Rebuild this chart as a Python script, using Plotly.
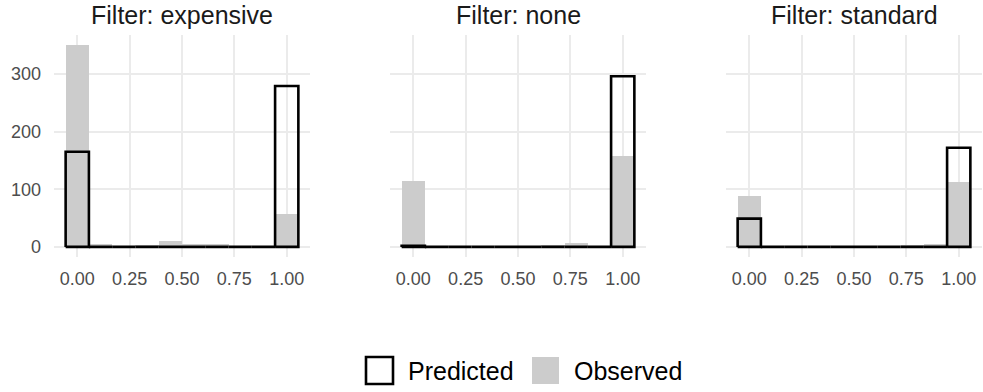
import plotly.graph_objects as go

# Histogram bins: 10 bins of width 1/9 centred on 0, 1/9, ..., 1
bin_width = 1 / 9
bin_centers = [i * bin_width for i in range(10)]

filters = ["expensive", "none", "standard"]

observed_expensive = [350, 5, 0, 3, 10, 5, 5, 0, 0, 57]
observed_none = [115, 0, 0, 0, 0, 0, 3, 6, 0, 158]
observed_standard = [88, 0, 0, 0, 0, 0, 0, 3, 5, 112]

predicted_expensive = [165, 0, 0, 0, 0, 0, 0, 0, 0, 279]
predicted_none = [2, 0, 0, 0, 0, 0, 0, 0, 0, 296]
predicted_standard = [49, 0, 0, 0, 0, 0, 0, 0, 0, 172]

observed = [observed_expensive, observed_none, observed_standard]
predicted = [predicted_expensive, predicted_none, predicted_standard]

x_ticks = [0, 0.25, 0.5, 0.75, 1.0]
x_tick_text = ["0.00", "0.25", "0.50", "0.75", "1.00"]
y_ticks = [0, 100, 200, 300]
y_tick_text = ["0", "100", "200", "300"]

W, H = 983, 392
panel_px = [(54, 310), (390, 646), (726, 982)]
top_px, bottom_px = 35, 257

OBS_COLOR = "#cccccc"
GRID = "#ebebeb"
TICK_TEXT = "#4d4d4d"
FONT = "Liberation Sans, Arial, sans-serif"

x_range = [-bin_width, 1 + bin_width]
y_max = max(max(v) for v in observed + predicted)
y_range = [-0.05 * y_max, 1.05 * y_max]

fig = go.Figure()
annotations = []

for k, name in enumerate(filters):
    xa = "x" if k == 0 else f"x{k + 1}"
    ya = "y" if k == 0 else f"y{k + 1}"

    # observed counts as filled grey bars
    fig.add_trace(go.Bar(
        x=bin_centers, y=observed[k], width=bin_width,
        marker=dict(color=OBS_COLOR, line=dict(width=0)),
        xaxis=xa, yaxis=ya, showlegend=False, hoverinfo="skip",
    ))

    # predicted counts as black outlines (zero bins show as baseline segments)
    ox, oy = [], []
    for c, h in zip(bin_centers, predicted[k]):
        a, b = c - bin_width / 2, c + bin_width / 2
        ox += [a, a, b, b, a, None]
        oy += [0, h, h, 0, 0, None]
    fig.add_trace(go.Scatter(
        x=ox, y=oy, mode="lines",
        line=dict(color="black", width=2.6),
        xaxis=xa, yaxis=ya, showlegend=False, hoverinfo="skip",
    ))

    x0, x1 = panel_px[k]
    dom_x = [x0 / W, x1 / W]
    dom_y = [1 - bottom_px / H, 1 - top_px / H]
    xkey = "xaxis" if k == 0 else f"xaxis{k + 1}"
    ykey = "yaxis" if k == 0 else f"yaxis{k + 1}"
    fig.layout[xkey] = dict(
        domain=dom_x, anchor=ya, range=x_range,
        tickvals=x_ticks, ticktext=x_tick_text,
        showgrid=True, gridcolor=GRID, gridwidth=1.8,
        zeroline=False, showline=False, ticks="",
        ticklabelstandoff=9,
        tickfont=dict(size=18, color=TICK_TEXT, family=FONT),
    )
    fig.layout[ykey] = dict(
        domain=dom_y, anchor=xa, range=y_range,
        tickvals=y_ticks, ticktext=y_tick_text,
        showticklabels=(k == 0),
        showgrid=True, gridcolor=GRID, gridwidth=1.8,
        zeroline=False, showline=False, ticks="",
        ticklabelstandoff=12,
        tickfont=dict(size=18, color=TICK_TEXT, family=FONT),
    )

    annotations.append(dict(
        text=f"Filter: {name}", xref="paper", yref="paper",
        x=(x0 + x1) / 2 / W, y=1, xanchor="center", yanchor="top",
        borderpad=0, showarrow=False,
        font=dict(size=25, color="#1a1a1a", family=FONT),
    ))

# legend drawn as keys + labels below the panels
key_size = 27
key_y0, key_y1 = 357, 384
legend_items = [
    ("Predicted", 366, dict(fillcolor="white", line=dict(color="black", width=2.6))),
    ("Observed", 532, dict(fillcolor=OBS_COLOR, line=dict(width=0))),
]
shapes = []
for label, kx, style in legend_items:
    shapes.append(dict(
        type="rect", xref="paper", yref="paper",
        x0=kx / W, x1=(kx + key_size) / W,
        y0=1 - key_y1 / H, y1=1 - key_y0 / H, **style,
    ))
    annotations.append(dict(
        text=label, xref="paper", yref="paper",
        x=(kx + key_size + 13) / W, y=1 - (key_y0 + key_y1) / 2 / H,
        xanchor="left", yanchor="middle", showarrow=False,
        font=dict(size=25, color="black", family=FONT),
    ))

fig.update_layout(
    width=W, height=H,
    margin=dict(l=0, r=0, t=0, b=0),
    paper_bgcolor="white", plot_bgcolor="white",
    barmode="overlay", bargap=0,
    showlegend=False,
    annotations=annotations, shapes=shapes,
    font=dict(family=FONT),
)

fig.write_html("out.html")
